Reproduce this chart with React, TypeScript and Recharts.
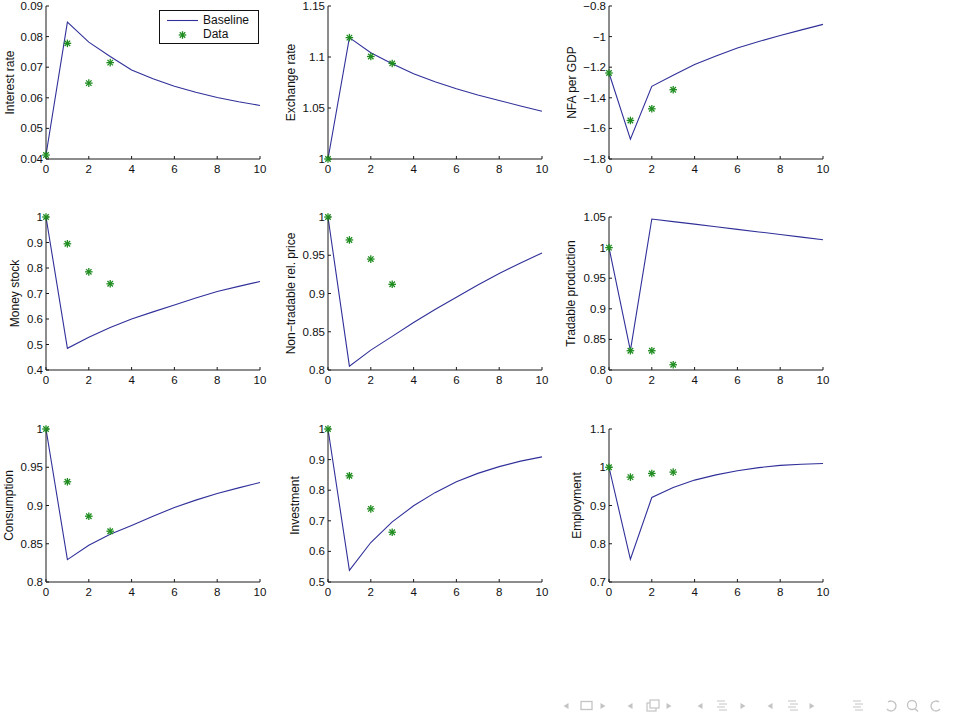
import React from "react";
import { ComposedChart, Line, Scatter, XAxis, YAxis } from "recharts";

const periods = [0, 1, 2, 3, 4, 5, 6, 7, 8, 9, 10];
const obsPeriods = [0, 1, 2, 3];
const xTicks = [0, 2, 4, 6, 8, 10];

const interestBaseline = [0.0413, 0.0847, 0.0782, 0.0735, 0.0691, 0.0662, 0.0638, 0.0618, 0.0601, 0.0587, 0.0575];
const interestData = [0.0413, 0.0778, 0.0648, 0.0715];
const interestTicks = [0.04, 0.05, 0.06, 0.07, 0.08, 0.09];

const exchangeBaseline = [1.0, 1.119, 1.1042, 1.0933, 1.0835, 1.0757, 1.0688, 1.0628, 1.0573, 1.052, 1.0468];
const exchangeData = [1.0, 1.119, 1.1005, 1.0937];
const exchangeTicks = [1, 1.05, 1.1, 1.15];

const nfaBaseline = [-1.238, -1.671, -1.325, -1.253, -1.183, -1.127, -1.074, -1.032, -0.993, -0.956, -0.92];
const nfaData = [-1.238, -1.548, -1.472, -1.347];
const nfaTicks = [-1.8, -1.6, -1.4, -1.2, -1, -0.8];

const moneyBaseline = [1, 0.485, 0.528, 0.567, 0.6, 0.628, 0.655, 0.682, 0.708, 0.728, 0.747];
const moneyData = [1, 0.895, 0.785, 0.738];
const moneyTicks = [0.4, 0.5, 0.6, 0.7, 0.8, 0.9, 1];

const nonTradBaseline = [1, 0.805, 0.826, 0.844, 0.862, 0.879, 0.895, 0.911, 0.926, 0.94, 0.953];
const nonTradData = [1, 0.97, 0.945, 0.912];
const nonTradTicks = [0.8, 0.85, 0.9, 0.95, 1];

const tradBaseline = [1, 0.8317, 1.0467, 1.0425, 1.0383, 1.034, 1.0298, 1.0256, 1.0214, 1.0171, 1.0129];
const tradData = [1, 0.8315, 0.8315, 0.8086];
const tradTicks = [0.8, 0.85, 0.9, 0.95, 1, 1.05];

const consBaseline = [1, 0.8292, 0.848, 0.8624, 0.874, 0.886, 0.8974, 0.907, 0.9157, 0.923, 0.93];
const consData = [1, 0.931, 0.886, 0.8664];
const consTicks = [0.8, 0.85, 0.9, 0.95, 1];

const invBaseline = [1, 0.538, 0.629, 0.6965, 0.749, 0.792, 0.8275, 0.855, 0.877, 0.895, 0.909];
const invData = [1, 0.847, 0.739, 0.6627];
const invTicks = [0.5, 0.6, 0.7, 0.8, 0.9, 1];

const empBaseline = [1, 0.7594, 0.921, 0.9472, 0.9664, 0.98, 0.9908, 0.999, 1.0048, 1.008, 1.01];
const empData = [1, 0.9742, 0.9838, 0.9873];
const empTicks = [0.7, 0.8, 0.9, 1, 1.1];

const FONT = '"Liberation Sans", Arial, Helvetica, sans-serif';
const FONT_SIZE = 11.5;
const LINE_COLOR = "#30309a";
const STAR_COLOR = "#1f8c1f";
const AXIS_COLOR = "#1a1a1a";

const PLOT_W = 214;
const PLOT_H = 153;
const Y_AXIS_W = 46;
const TOP_PAD = 10;
const RIGHT_PAD = 16;
const X_AXIS_H = 22;

const colLefts = [46, 328, 609];
const rowTops = [6, 217, 429];

const panels = [
  { label: "Interest rate", base: interestBaseline, obs: interestData, ticks: interestTicks, dist: 36 },
  { label: "Exchange rate", base: exchangeBaseline, obs: exchangeData, ticks: exchangeTicks, dist: 37 },
  { label: "NFA per GDP", base: nfaBaseline, obs: nfaData, ticks: nfaTicks, dist: 37 },
  { label: "Money stock", base: moneyBaseline, obs: moneyData, ticks: moneyTicks, dist: 31 },
  { label: "Non\u2212tradable rel. price", base: nonTradBaseline, obs: nonTradData, ticks: nonTradTicks, dist: 37 },
  { label: "Tradable production", base: tradBaseline, obs: tradData, ticks: tradTicks, dist: 38 },
  { label: "Consumption", base: consBaseline, obs: consData, ticks: consTicks, dist: 37 },
  { label: "Investment", base: invBaseline, obs: invData, ticks: invTicks, dist: 33 },
  { label: "Employment", base: empBaseline, obs: empData, ticks: empTicks, dist: 32 },
];

const fmt = (v: number) => String(parseFloat(Number(v).toFixed(3))).replace("-", "\u2212");

function Star(props: any) {
  const { cx, cy } = props;
  if (cx == null || cy == null) return null;
  const r = 3.8;
  const d = r * 0.72;
  return (
    <g stroke={STAR_COLOR} strokeWidth={1.3}>
      <line x1={cx - r} y1={cy} x2={cx + r} y2={cy} />
      <line x1={cx} y1={cy - r} x2={cx} y2={cy + r} />
      <line x1={cx - d} y1={cy - d} x2={cx + d} y2={cy + d} />
      <line x1={cx - d} y1={cy + d} x2={cx + d} y2={cy - d} />
    </g>
  );
}

function Panel({ p, left, top }: { p: any; left: number; top: number }) {
  const rows = periods.map((x, i) => ({ x, base: p.base[i] }));
  const pts = obsPeriods.map((x, i) => ({ x, obs: p.obs[i] }));
  const domain = [p.ticks[0], p.ticks[p.ticks.length - 1]];
  const tickStyle = { fontFamily: FONT, fontSize: FONT_SIZE, fill: "#111" };
  return (
    <div style={{ position: "absolute", left: left - Y_AXIS_W, top: top - TOP_PAD }}>
      <ComposedChart
        width={Y_AXIS_W + PLOT_W + RIGHT_PAD}
        height={TOP_PAD + PLOT_H + X_AXIS_H}
        data={rows}
        margin={{ top: TOP_PAD, right: RIGHT_PAD, bottom: 0, left: 0 }}
      >
        <XAxis
          dataKey="x"
          type="number"
          domain={[0, 10]}
          ticks={xTicks}
          height={X_AXIS_H}
          tickSize={-3}
          tickMargin={9}
          tick={tickStyle}
          stroke={AXIS_COLOR}
          interval={0}
        />
        <XAxis
          xAxisId="top"
          orientation="top"
          dataKey="x"
          type="number"
          domain={[0, 10]}
          ticks={xTicks}
          height={0}
          tickSize={-3}
          tick={false}
          stroke={AXIS_COLOR}
          interval={0}
        />
        <YAxis
          type="number"
          domain={domain}
          ticks={p.ticks}
          width={Y_AXIS_W}
          tickSize={-3}
          tickMargin={6}
          tick={tickStyle}
          tickFormatter={fmt}
          stroke={AXIS_COLOR}
          interval={0}
          label={(lp: any) => {
            const vb = lp.viewBox || {};
            const cx = (vb.x ?? 0) + (vb.width ?? Y_AXIS_W) - p.dist;
            const cy = (vb.y ?? TOP_PAD) + (vb.height ?? PLOT_H) / 2;
            return (
              <text
                x={cx}
                y={cy}
                transform={`rotate(-90, ${cx}, ${cy})`}
                textAnchor="middle"
                dominantBaseline="central"
                style={{ fontFamily: FONT, fontSize: 12, fill: "#111" }}
              >
                {p.label}
              </text>
            );
          }}
        />
        <YAxis
          yAxisId="right"
          orientation="right"
          type="number"
          domain={domain}
          ticks={p.ticks}
          width={0}
          tickSize={-3}
          tick={false}
          stroke={AXIS_COLOR}
          interval={0}
        />
        <Line
          type="linear"
          dataKey="base"
          stroke={LINE_COLOR}
          strokeWidth={1.1}
          dot={false}
          isAnimationActive={false}
        />
        <Scatter data={pts} dataKey="obs" shape={Star} isAnimationActive={false} />
      </ComposedChart>
    </div>
  );
}

function LegendBox() {
  return (
    <div
      style={{
        position: "absolute",
        left: 159,
        top: 10,
        width: 98,
        height: 32,
        border: "1px solid #111",
        background: "#fff",
        fontFamily: FONT,
        fontSize: 12,
        color: "#111",
      }}
    >
      <svg width={40} height={32} style={{ position: "absolute", left: 0, top: 0 }}>
        <line x1={7} y1={9.5} x2={38} y2={9.5} stroke={LINE_COLOR} strokeWidth={1.1} />
        <Star cx={22.5} cy={24} />
      </svg>
      <div style={{ position: "absolute", left: 43, top: 2, lineHeight: "14px" }}>Baseline</div>
      <div style={{ position: "absolute", left: 43, top: 16, lineHeight: "14px" }}>Data</div>
    </div>
  );
}

function NavSymbols() {
  const c = "#c4c4c4";
  const tri = (x: number, dir: number) => (
    <path d={`M${x + dir * 2.5},${706 - 3} L${x - dir * 2.5},706 L${x + dir * 2.5},${706 + 3} Z`} fill={c} />
  );
  const lines = (x: number) => (
    <g stroke={c} strokeWidth={1}>
      <line x1={x - 5} y1={701} x2={x + 3} y2={701} />
      <line x1={x - 3} y1={704} x2={x + 5} y2={704} />
      <line x1={x - 5} y1={707} x2={x + 3} y2={707} />
      <line x1={x - 3} y1={710} x2={x + 5} y2={710} />
    </g>
  );
  return (
    <svg width={960} height={720} style={{ position: "absolute", left: 0, top: 0, pointerEvents: "none" }}>
      {tri(566, 1)}
      <rect x={581} y={701.5} width={11} height={8} fill="none" stroke={c} strokeWidth={1.3} />
      {tri(603, -1)}
      {tri(630, 1)}
      <rect x={647} y={703} width={9} height={8} fill="none" stroke={c} strokeWidth={1.2} />
      <rect x={650} y={700} width={9} height={8} fill="#fff" stroke={c} strokeWidth={1.2} />
      {tri(669, -1)}
      {tri(700, 1)}
      {lines(722)}
      {tri(743, -1)}
      {tri(770, 1)}
      {lines(793)}
      {tri(812, -1)}
      {lines(858)}
      <path d="M888,702 A5,5 0 1 1 887,709" fill="none" stroke={c} strokeWidth={1.3} />
      <circle cx={912} cy={705} r={4.5} fill="none" stroke={c} strokeWidth={1.3} />
      <line x1={915} y1={708.5} x2={918} y2={711.5} stroke={c} strokeWidth={1.5} />
      <path d="M939,702 A5,5 0 1 0 940,709" fill="none" stroke={c} strokeWidth={1.3} />
    </svg>
  );
}

export default function App() {
  return (
    <div
      style={{
        position: "absolute",
        left: 0,
        top: 0,
        width: 960,
        height: 720,
        background: "#fff",
        overflow: "hidden",
      }}
    >
      {panels.map((p, i) => (
        <Panel key={p.label} p={p} left={colLefts[i % 3]} top={rowTops[Math.floor(i / 3)]} />
      ))}
      <LegendBox />
      <NavSymbols />
    </div>
  );
}
